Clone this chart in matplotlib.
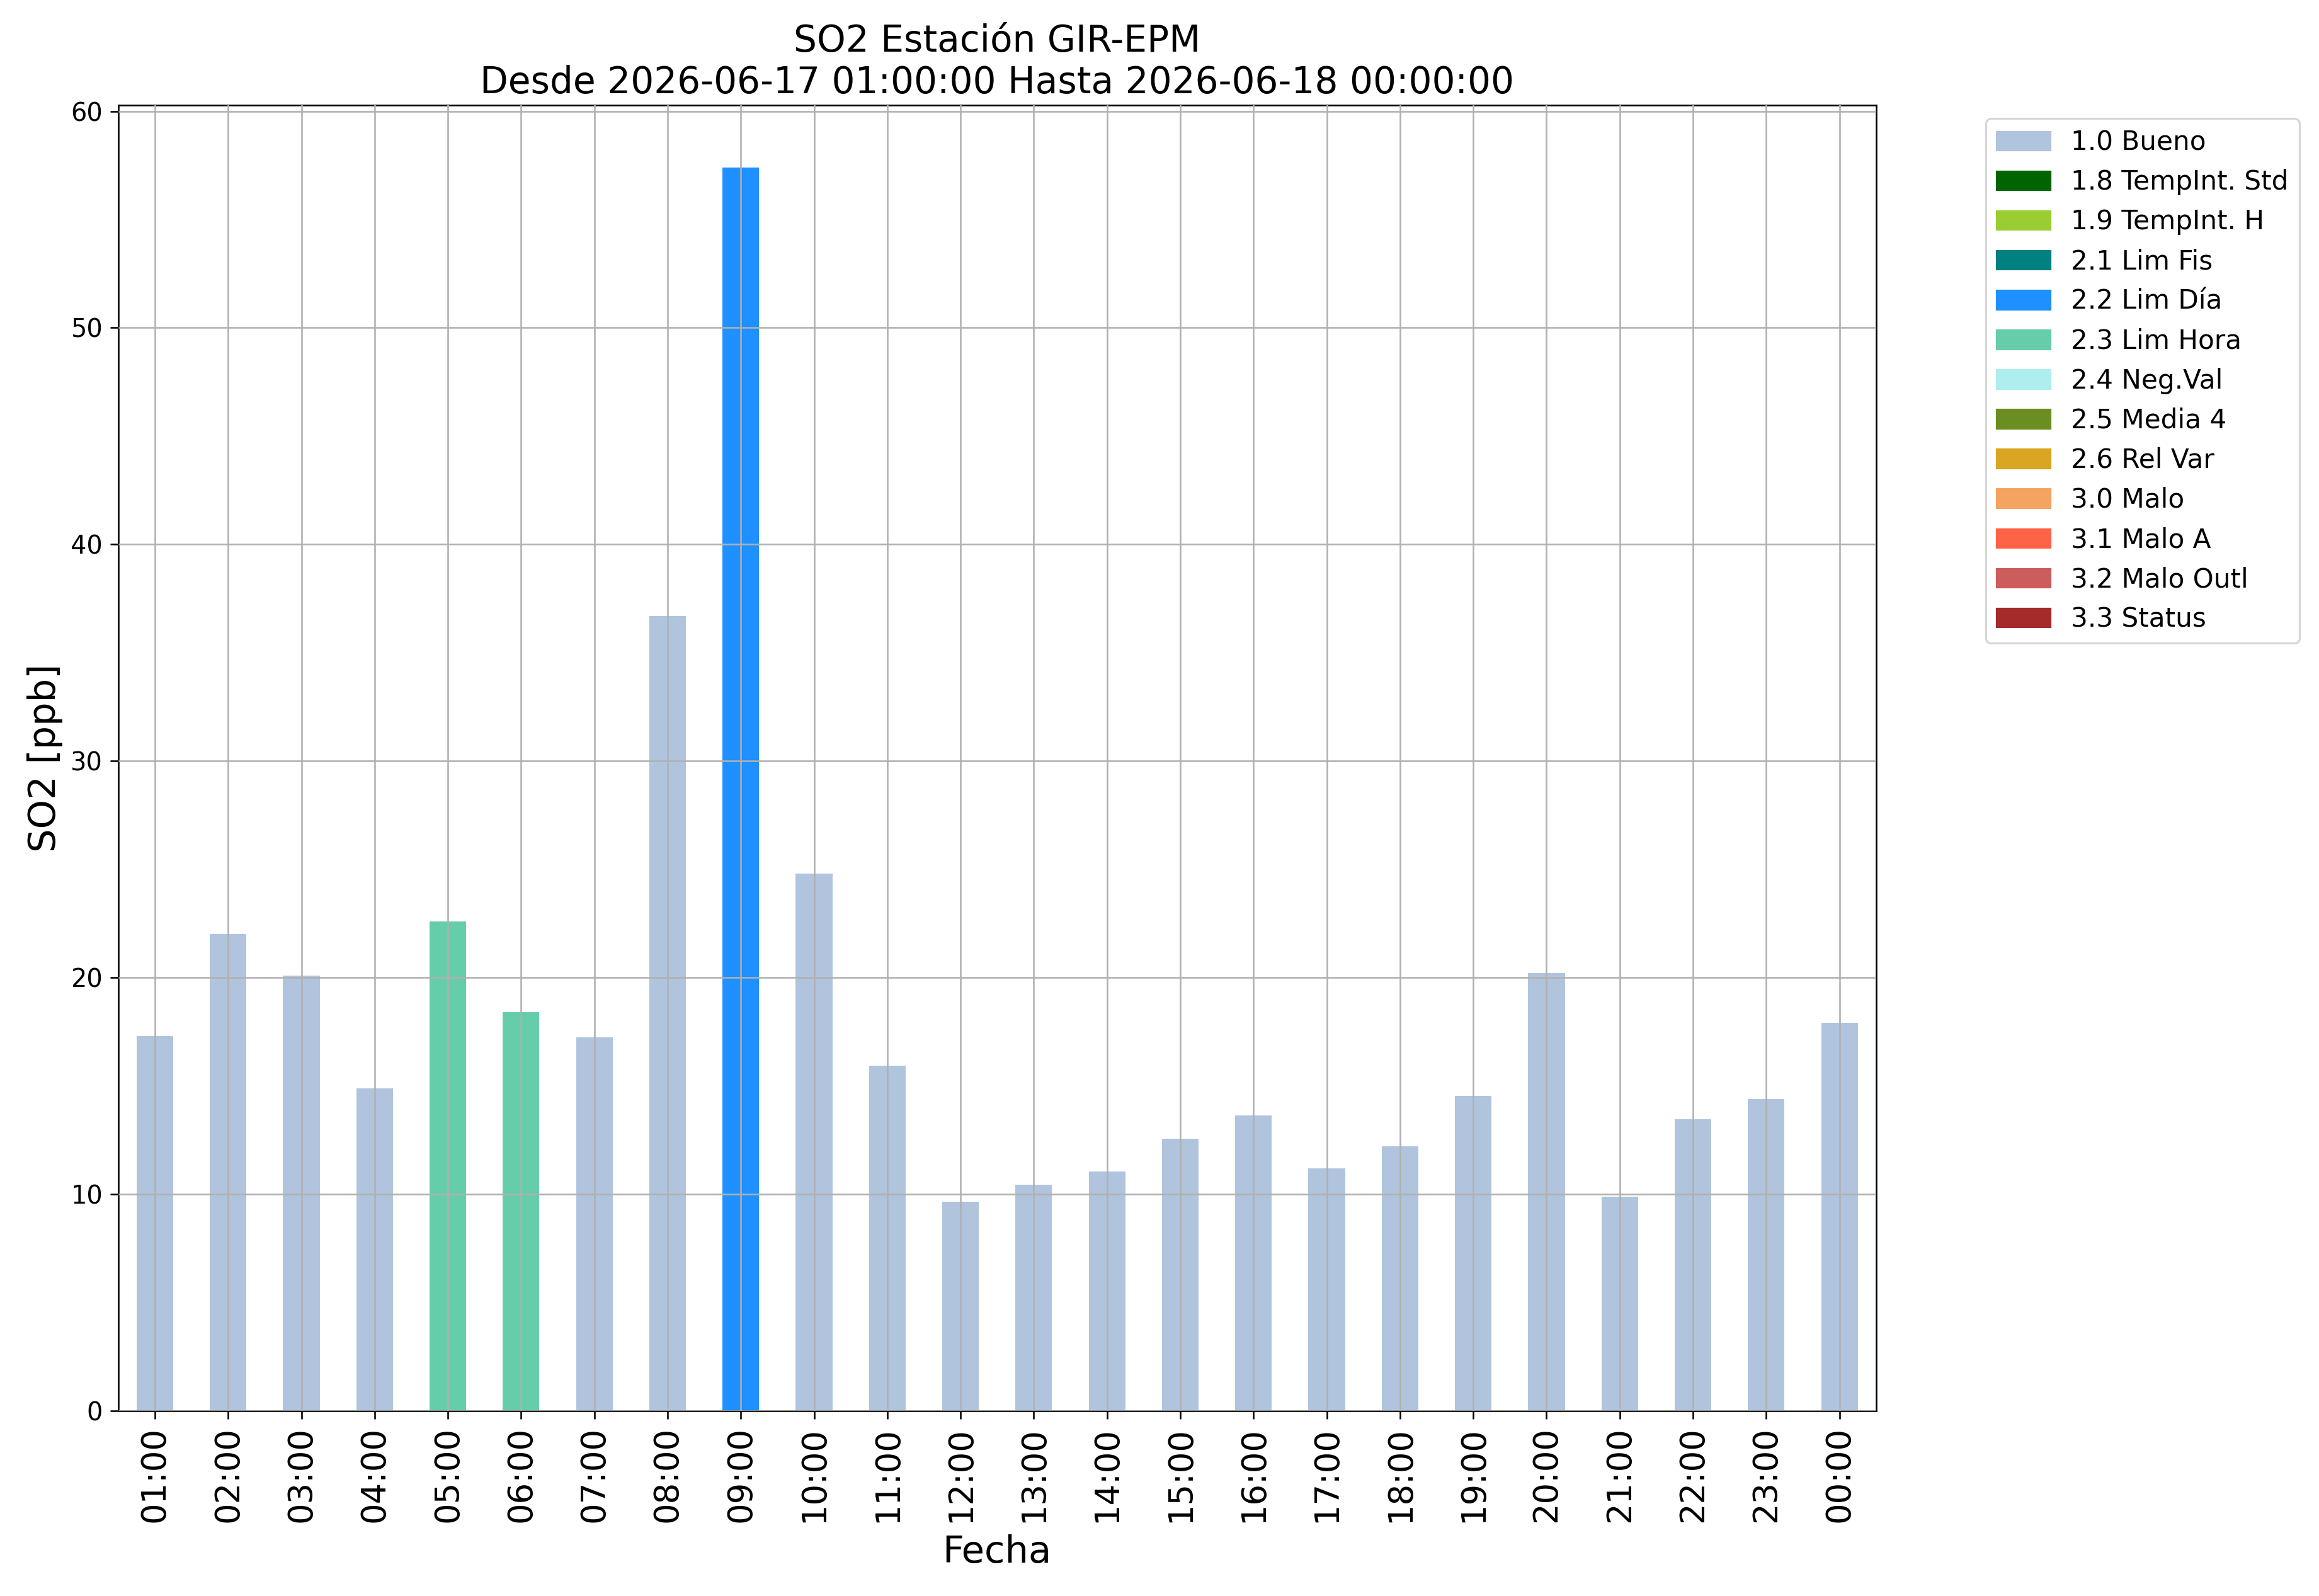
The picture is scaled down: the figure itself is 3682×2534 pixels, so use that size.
import matplotlib
matplotlib.use("Agg")
import matplotlib.pyplot as plt
import matplotlib.patches as mpatches

horas = ["01:00", "02:00", "03:00", "04:00", "05:00", "06:00", "07:00", "08:00",
         "09:00", "10:00", "11:00", "12:00", "13:00", "14:00", "15:00", "16:00",
         "17:00", "18:00", "19:00", "20:00", "21:00", "22:00", "23:00", "00:00"]
so2 = [17.3, 22.0, 20.1, 14.9, 22.6, 18.4, 17.25, 36.7,
       57.4, 24.8, 15.95, 9.65, 10.45, 11.05, 12.55, 13.65,
       11.2, 12.2, 14.55, 20.2, 9.9, 13.45, 14.4, 17.9]
banderas = ["1.0", "1.0", "1.0", "1.0", "2.3", "2.3", "1.0", "1.0",
            "2.2", "1.0", "1.0", "1.0", "1.0", "1.0", "1.0", "1.0",
            "1.0", "1.0", "1.0", "1.0", "1.0", "1.0", "1.0", "1.0"]

etiquetas = ["1.0 Bueno", "1.8 TempInt. Std", "1.9 TempInt. H", "2.1 Lim Fis",
             "2.2 Lim Día", "2.3 Lim Hora", "2.4 Neg.Val", "2.5 Media 4",
             "2.6 Rel Var", "3.0 Malo", "3.1 Malo A", "3.2 Malo Outl", "3.3 Status"]
colores = ["lightsteelblue", "darkgreen", "yellowgreen", "teal",
           "dodgerblue", "mediumaquamarine", "paleturquoise", "olivedrab",
           "goldenrod", "sandybrown", "tomato", "indianred", "brown"]

color_por_flag = {e.split()[0]: c for e, c in zip(etiquetas, colores)}

fig = plt.figure(figsize=(3682 / 230, 2534 / 230), dpi=230)
ax = fig.add_axes([0.051, 0.116, 0.758, 0.818])

x = range(len(horas))
ax.bar(x, so2, width=0.5, color=[color_por_flag[b] for b in banderas], zorder=2)
ax.set_xlim(-0.5, len(horas) - 0.5)
ax.set_xticks(list(x))
ax.set_xticklabels(horas, rotation=90, fontsize=16.5)
ax.tick_params(axis="y", labelsize=12.5)
ax.tick_params(length=4.2)
ax.grid(True, color="#b0b0b0", zorder=3)
ax.set_axisbelow(False)

ax.set_xlabel("Fecha", fontsize=18.5, labelpad=6)
ax.set_ylabel("SO2 [ppb]", fontsize=18.5)
ax.set_title("SO2 Estación GIR-EPM\nDesde 2026-06-17 01:00:00 Hasta 2026-06-18 00:00:00",
             fontsize=18.2)

parches = [mpatches.Patch(color=c, label=e) for e, c in zip(etiquetas, colores)]
ax.legend(handles=parches, bbox_to_anchor=(1.055, 1.0), loc="upper left", fontsize=13.2)

fig.savefig("out.png", dpi=230)
